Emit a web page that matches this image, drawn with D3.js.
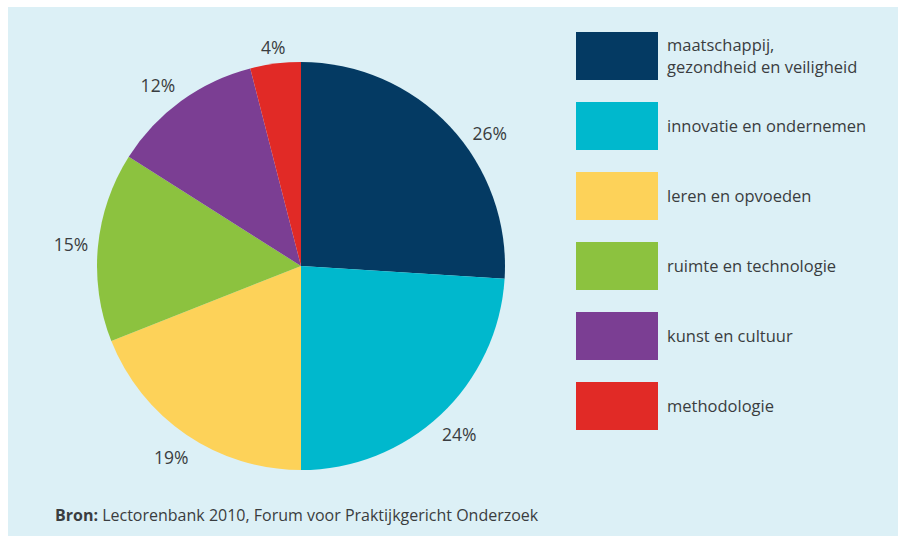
<!DOCTYPE html>
<html>
<head>
<meta charset="utf-8">
<script src="https://cdn.jsdelivr.net/npm/d3@7/dist/d3.min.js"></script>
<style>
  html, body { margin: 0; padding: 0; background: #ffffff; }
  svg { display: block; }
  text { font-family: "Open Sans", "Noto Sans", sans-serif; fill: #3a3d40; }
</style>
</head>
<body>
<svg id="chart" width="898" height="536"></svg>
<script>
// Research themes of the lectorates (share of lectorates, %)
const categories = [
  "maatschappij, gezondheid en veiligheid",
  "innovatie en ondernemen",
  "leren en opvoeden",
  "ruimte en technologie",
  "kunst en cultuur",
  "methodologie"
];
const legendLines = [
  ["maatschappij,", "gezondheid en veiligheid"],
  ["innovatie en ondernemen"],
  ["leren en opvoeden"],
  ["ruimte en technologie"],
  ["kunst en cultuur"],
  ["methodologie"]
];
const shares = [26, 24, 19, 15, 12, 4];
const colors = ["#043a63", "#00b8cd", "#fdd259", "#8cc23f", "#7b3e93", "#e12a26"];
const sourceLabel = "Bron:";
const sourceText = " Lectorenbank 2010, Forum voor Praktijkgericht Onderzoek";

const svg = d3.select("#chart");

// panel background
svg.append("rect")
  .attr("x", 8).attr("y", 7)
  .attr("width", 890).attr("height", 529)
  .attr("fill", "#dcf0f6");

const cx = 301, cy = 266, radius = 204, labelRadius = 231;

const data = categories.map((c, i) => ({ name: c, value: shares[i], color: colors[i] }));

const pie = d3.pie().value(d => d.value).sort(null);
const arcs = pie(data);
const arc = d3.arc().innerRadius(0).outerRadius(radius);

const g = svg.append("g").attr("transform", `translate(${cx},${cy})`);

g.selectAll("path.slice")
  .data(arcs)
  .join("path")
  .attr("class", "slice")
  .attr("d", arc)
  .attr("fill", d => d.data.color);

// percentage labels around the rim; the first one sits a little further round
const angleNudge = [0.14, 0, 0, 0, -0.04, 0];
g.selectAll("text.pct")
  .data(arcs)
  .join("text")
  .attr("class", "pct")
  .attr("transform", (d, i) => {
    const a = (d.startAngle + d.endAngle) / 2 + angleNudge[i];
    const r = i === 5 ? labelRadius - 10 : labelRadius;
    return `translate(${Math.sin(a) * r},${-Math.cos(a) * r})`;
  })
  .attr("text-anchor", "middle")
  .attr("dominant-baseline", "central")
  .attr("font-size", 17.5)
  .text(d => d.data.value + "%");

// legend
const legend = svg.append("g").attr("transform", "translate(576,32)");
const rowStep = 70, swW = 82, swH = 48;
const rows = legend.selectAll("g.row")
  .data(data)
  .join("g")
  .attr("class", "row")
  .attr("transform", (d, i) => `translate(0,${i * rowStep})`);

rows.append("rect")
  .attr("width", swW).attr("height", swH)
  .attr("fill", d => d.color);

rows.each(function (d, i) {
  const lines = legendLines[i];
  const lh = 22;
  const y0 = swH / 2 - (lines.length - 1) * lh / 2;
  const t = d3.select(this).append("text")
    .attr("x", 91)
    .attr("font-size", 16.5);
  lines.forEach((ln, k) => {
    t.append("tspan")
      .attr("x", 91)
      .attr("y", y0 + k * lh - 1)
      .attr("dominant-baseline", "central")
      .text(ln);
  });
});

// source line
const src = svg.append("text")
  .attr("x", 55).attr("y", 521)
  .attr("font-size", 16);
src.append("tspan").attr("font-weight", "bold").text(sourceLabel);
src.append("tspan").text(sourceText);
</script>
</body>
</html>
